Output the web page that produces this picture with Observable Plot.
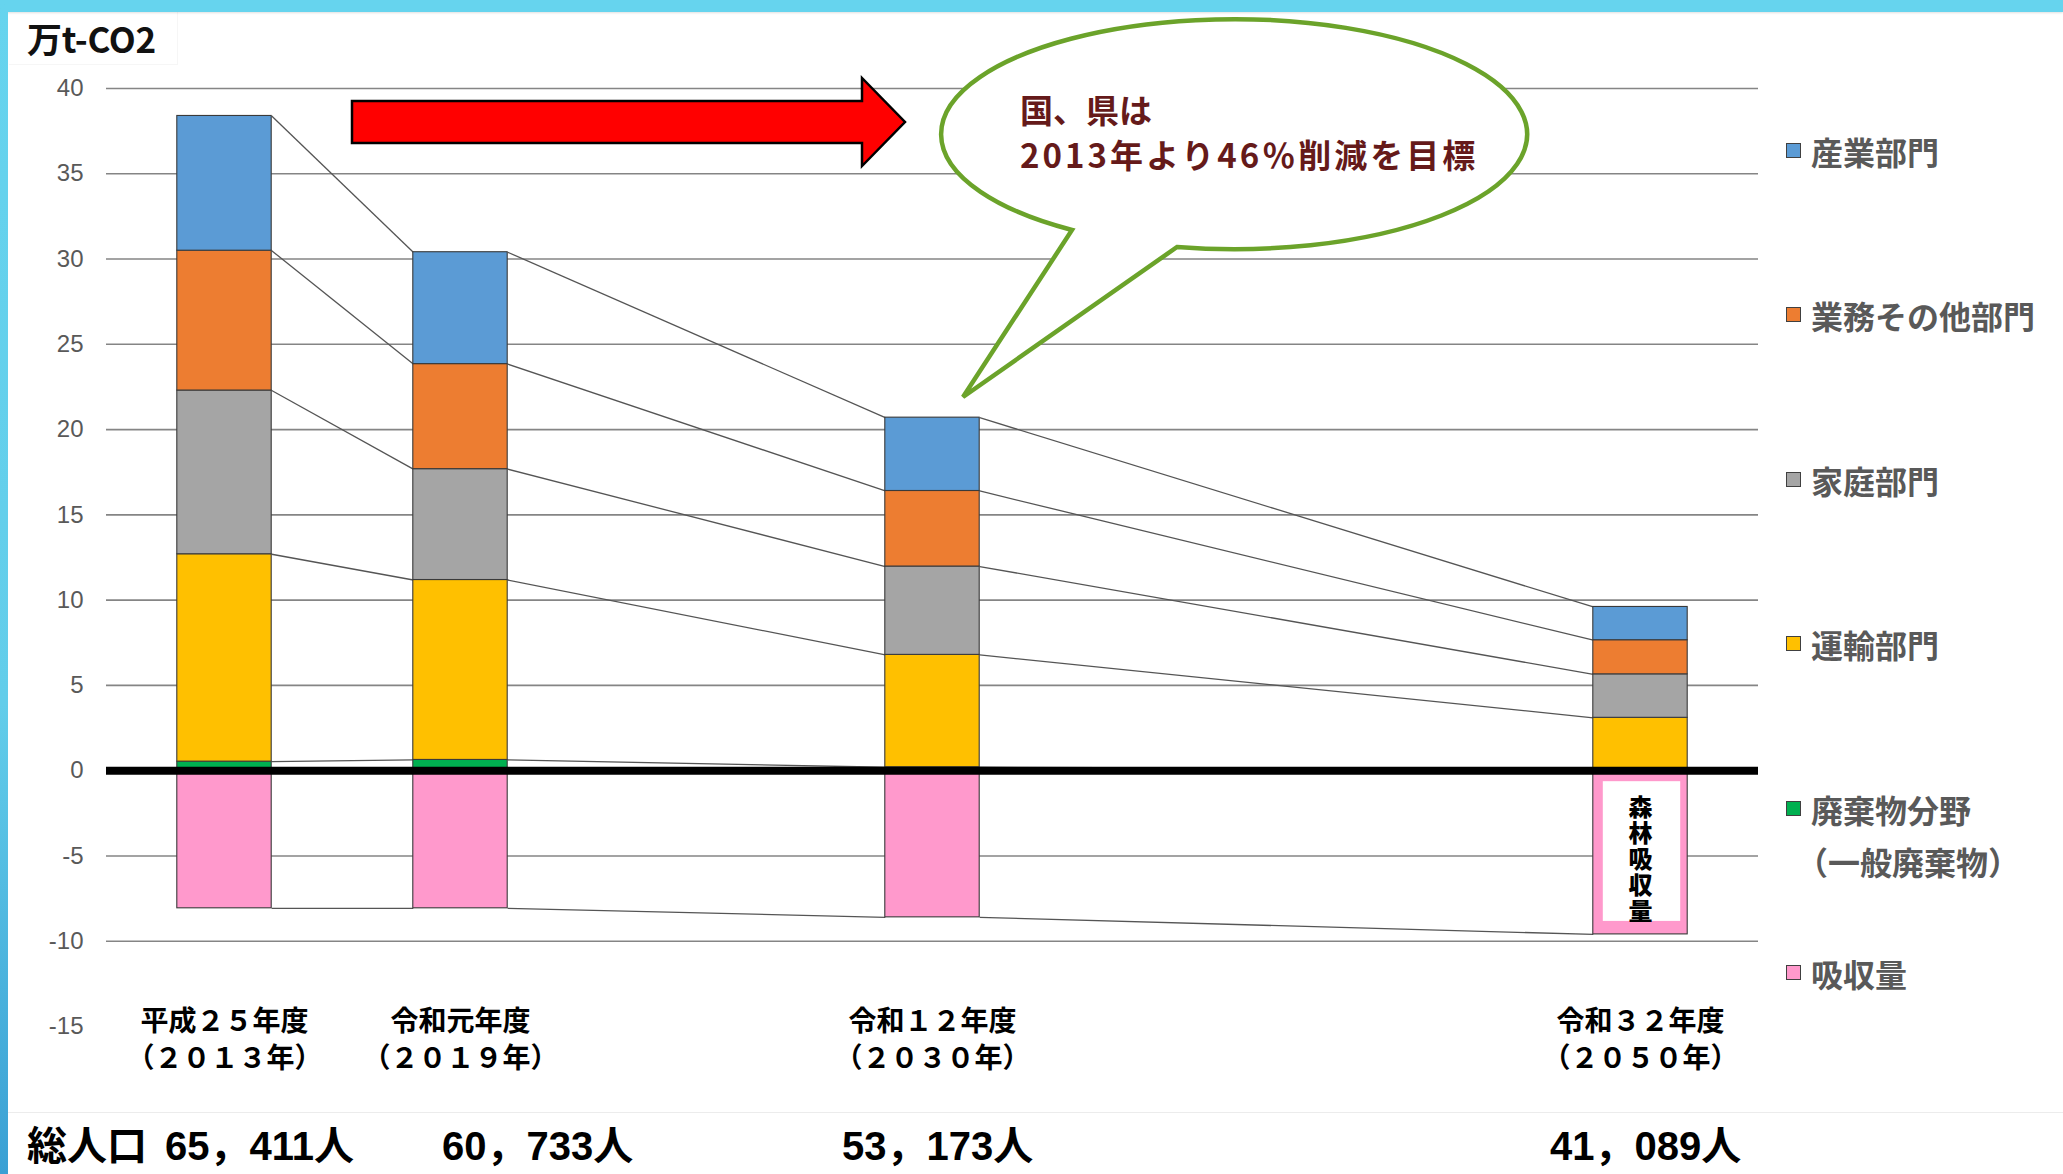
<!DOCTYPE html>
<html lang="ja">
<head>
<meta charset="utf-8">
<script src="https://cdn.jsdelivr.net/npm/d3@7"></script>
<script src="https://cdn.jsdelivr.net/npm/@observablehq/plot@0.6"></script>
<style>
  html, body { margin: 0; padding: 0; background: #fff; }
  #page { position: relative; width: 2063px; height: 1174px; overflow: hidden; background: #fff;
          font-family: "Noto Sans CJK JP", "Noto Sans", sans-serif; }
  #chart { position: absolute; left: 0; top: 0; }
  #chart svg { display: block; }
  #overlay { position: absolute; left: 0; top: 0; pointer-events: none; }
  #topbar { position: absolute; left: 0; top: 0; width: 2063px; height: 12px; background: #66d4ee;
            box-shadow: 0 1px 2px rgba(0,0,0,0.12); z-index: 5; }
  #leftbar { position: absolute; left: 0; top: 0; width: 8px; height: 1174px;
             background: linear-gradient(#66d4ee, #62cdea 60%, #3aa0d4); z-index: 5; }
  #unit { position: absolute; left: 9px; top: 12px; width: 168px; height: 52px;
          border-right: 1px solid #f6f6f6; border-bottom: 1px solid #f6f6f6; }
  #unit span { position: absolute; left: 18px; top: 4px; font-size: 35px; font-weight: 700; color: #111;
               line-height: 44px; letter-spacing: -0.3px; }
  #legend { position: absolute; left: 1786px; top: 131px; }
  .item { position: relative; height: 164.4px; }
  .sw { position: absolute; left: 0; top: 12px; width: 13px; height: 13px; border: 1.5px solid #404040; }
  .lab { position: absolute; left: 25px; top: -6px; font-size: 32px; font-weight: 700; color: #595959;
         line-height: 52px; white-space: pre; text-indent: 15px; margin-left: -15px; }
  #sep { position: absolute; left: 8px; top: 1112px; width: 2055px; height: 1px; background: #ececec; }
  #pop { position: absolute; left: 0; top: 1113px; width: 2063px; height: 61px; }
  #pop span { position: absolute; top: 10px; font-family: "Liberation Sans", "Noto Sans CJK JP", sans-serif;
              font-size: 40px; font-weight: 700; color: #000; line-height: 46px; white-space: pre; }
  #pop span:nth-child(1) { left: 27px; }
  #pop span:nth-child(2) { left: 165px; }
  #pop span:nth-child(3) { left: 442px; }
  #pop span:nth-child(4) { left: 842px; }
  #pop span:nth-child(5) { left: 1550px; }
</style>
</head>
<body>
<div id="page">
  <div id="chart"></div>
  <svg id="overlay" width="2063" height="1100"></svg>
  <div id="unit"><span></span></div>
  <div id="legend"></div>
  <div id="sep"></div>
  <div id="pop"></div>
  <div id="topbar"></div>
  <div id="leftbar"></div>
</div>
<script>
// ---------------- data ----------------
const unitLabel = "万t-CO2";
// category slots of the original chart (empty slots keep the spacing)
const categories = [
  "平成２５年度\n（２０１３年）",
  "令和元年度\n（２０１９年）",
  "",
  "令和１２年度\n（２０３０年）",
  "",
  "",
  "令和３２年度\n（２０５０年）"
];
const series = ["産業部門", "業務その他部門", "家庭部門", "運輸部門", "廃棄物分野\n（一般廃棄物）", "吸収量"];
const industry   = [7.9,   6.56,  null, 4.3,  null, null, 1.95];
const business   = [8.2,   6.16,  null, 4.43, null, null, 2.0];
const household  = [9.6,   6.5,   null, 5.18, null, null, 2.55];
const transport  = [12.16, 10.55, null, 6.59, null, null, 3.0];
const waste      = [0.53,  0.63,  null, 0.2,  null, null, 0.1];
const absorption = [-8.07, -8.07, null, -8.6, null, null, -9.6];
const yTicks = [-15, -10, -5, 0, 5, 10, 15, 20, 25, 30, 35, 40];
const populationLabel = "総人口";
const population = ["65，411人", "60，733人", "53，173人", "41，089人"];
const forestLabel = "森林吸収量";
const calloutLines = ["国、県は", "2013年より46％削減を目標"];

const colors = ["#5b9bd5", "#ed7d31", "#a5a5a5", "#ffc000", "#00b050", "#ff99cc"];

// ---------------- build stacked rows ----------------
const valuesBySeries = [industry, business, household, transport, waste, absorption];
const stackOrder = [4, 3, 2, 1, 0]; // bottom -> top : waste, transport, household, business, industry
const halfBar = 0.2;
const rows = [];
categories.forEach((c, i) => {
  if (industry[i] == null) return;
  let y0 = 0;
  for (const s of stackOrder) {
    const v = valuesBySeries[s][i];
    rows.push({series: series[s], i, y1: y0, y2: y0 + v});
    y0 += v;
  }
  rows.push({series: series[5], i, y1: 0, y2: absorption[i]});
});
// series lines: connect the outer edge of each segment to the same edge in the next bar
const links = [];
series.forEach(s => {
  const r = rows.filter(d => d.series === s).sort((a, b) => a.i - b.i);
  for (let k = 0; k + 1 < r.length; ++k) {
    links.push({x1: r[k].i + halfBar, y1: r[k].y2, x2: r[k + 1].i - halfBar, y2: r[k + 1].y2});
  }
});
const lastIndex = categories.length - 1;
const forestRow = rows.filter(d => d.series === series[5] && d.i === lastIndex);

// ---------------- plot ----------------
const chart = Plot.plot({
  width: 2063,
  height: 1100,
  marginLeft: 106,
  marginRight: 305,
  marginTop: 88,
  marginBottom: 74,
  style: {fontFamily: "'Noto Sans CJK JP', sans-serif", background: "transparent", overflow: "visible"},
  x: {domain: [-0.5, categories.length - 0.5]},
  y: {domain: [d3.min(yTicks), d3.max(yTicks)]},
  color: {domain: series, range: colors},
  marks: [
    Plot.ruleY(yTicks.filter(t => t > d3.min(yTicks) && t !== 0), {stroke: "#858585", strokeWidth: 1.6}),
    Plot.link(links, {x1: "x1", y1: "y1", x2: "x2", y2: "y2", stroke: "#555", strokeWidth: 1.3}),
    Plot.rect(rows, {
      x1: d => d.i - halfBar, x2: d => d.i + halfBar, y1: "y1", y2: "y2",
      fill: "series", stroke: "#3a3a3a", strokeWidth: 1.1
    }),
    Plot.rect(forestRow, {
      x1: d => d.i - halfBar, x2: d => d.i + halfBar, y1: "y1", y2: "y2",
      fill: "white", insetLeft: 10, insetRight: 7, insetTop: 11, insetBottom: 13
    }),
    Plot.text(forestRow, {
      x: "i", y: d => (d.y1 + d.y2) / 2, text: () => forestLabel,
      fontSize: 24, fontWeight: 900, fill: "#000"
    }),
    Plot.ruleY([0], {stroke: "#000", strokeWidth: 8}),
    Plot.axisY({
      ticks: yTicks, tickSize: 0, tickPadding: 23, tickFormat: d => String(d), label: null,
      fontSize: 24, fill: "#595959", fontFamily: "'Liberation Sans Narrow', 'Liberation Sans', sans-serif"
    }),
    Plot.axisX({
      ticks: categories.map((c, i) => c ? i : null).filter(i => i != null),
      tickFormat: i => categories[i], tickSize: 0, tickPadding: 0, dy: -22, label: null,
      fontSize: 28, fontWeight: 700, fill: "#000", lineHeight: 1.32
    })
  ]
});
// write the forest-absorption label vertically (縦書き)
d3.select(chart).selectAll("text").filter(function() { return this.textContent === forestLabel; })
  .attr("dy", null)
  .style("writing-mode", "vertical-rl")
  .style("text-anchor", "middle")
  .style("letter-spacing", "2px");
document.getElementById("chart").appendChild(chart);

// ---------------- annotations (arrow + callout) ----------------
const ov = d3.select("#overlay");
ov.append("path")
  .attr("d", "M352,101 L862,101 L862,78 L905,122 L862,166 L862,143 L352,143 Z")
  .attr("fill", "#ff0000").attr("stroke", "#000").attr("stroke-width", 2.5).attr("stroke-linejoin", "miter");
ov.append("path")
  .attr("d", "M1072,230 A293,115 0 1 1 1177,247 L963,397 Z")
  .attr("fill", "#fff").attr("stroke", "#6ba32a").attr("stroke-width", 4.5).attr("stroke-linejoin", "miter");
ov.selectAll("text.callout").data(calloutLines).join("text")
  .attr("class", "callout")
  .attr("x", 1020).attr("y", (d, k) => 123 + k * 45)
  .attr("fill", "#651a1a").attr("font-size", 33).attr("font-weight", 700)
  .attr("letter-spacing", (d, k) => k ? 3 : 0)
  .attr("font-family", "'Noto Sans CJK JP', sans-serif")
  .text(d => d);

// ---------------- unit label, legend, population row ----------------
document.querySelector("#unit span").textContent = unitLabel;
const legend = d3.select("#legend");
series.forEach((s, k) => {
  const it = legend.append("div").attr("class", "item");
  it.append("div").attr("class", "sw").style("background", colors[k]);
  it.append("div").attr("class", "lab").text(s);
});
const pop = d3.select("#pop");
pop.append("span").text(populationLabel);
population.forEach(p => pop.append("span").text(p));
</script>
</body>
</html>
